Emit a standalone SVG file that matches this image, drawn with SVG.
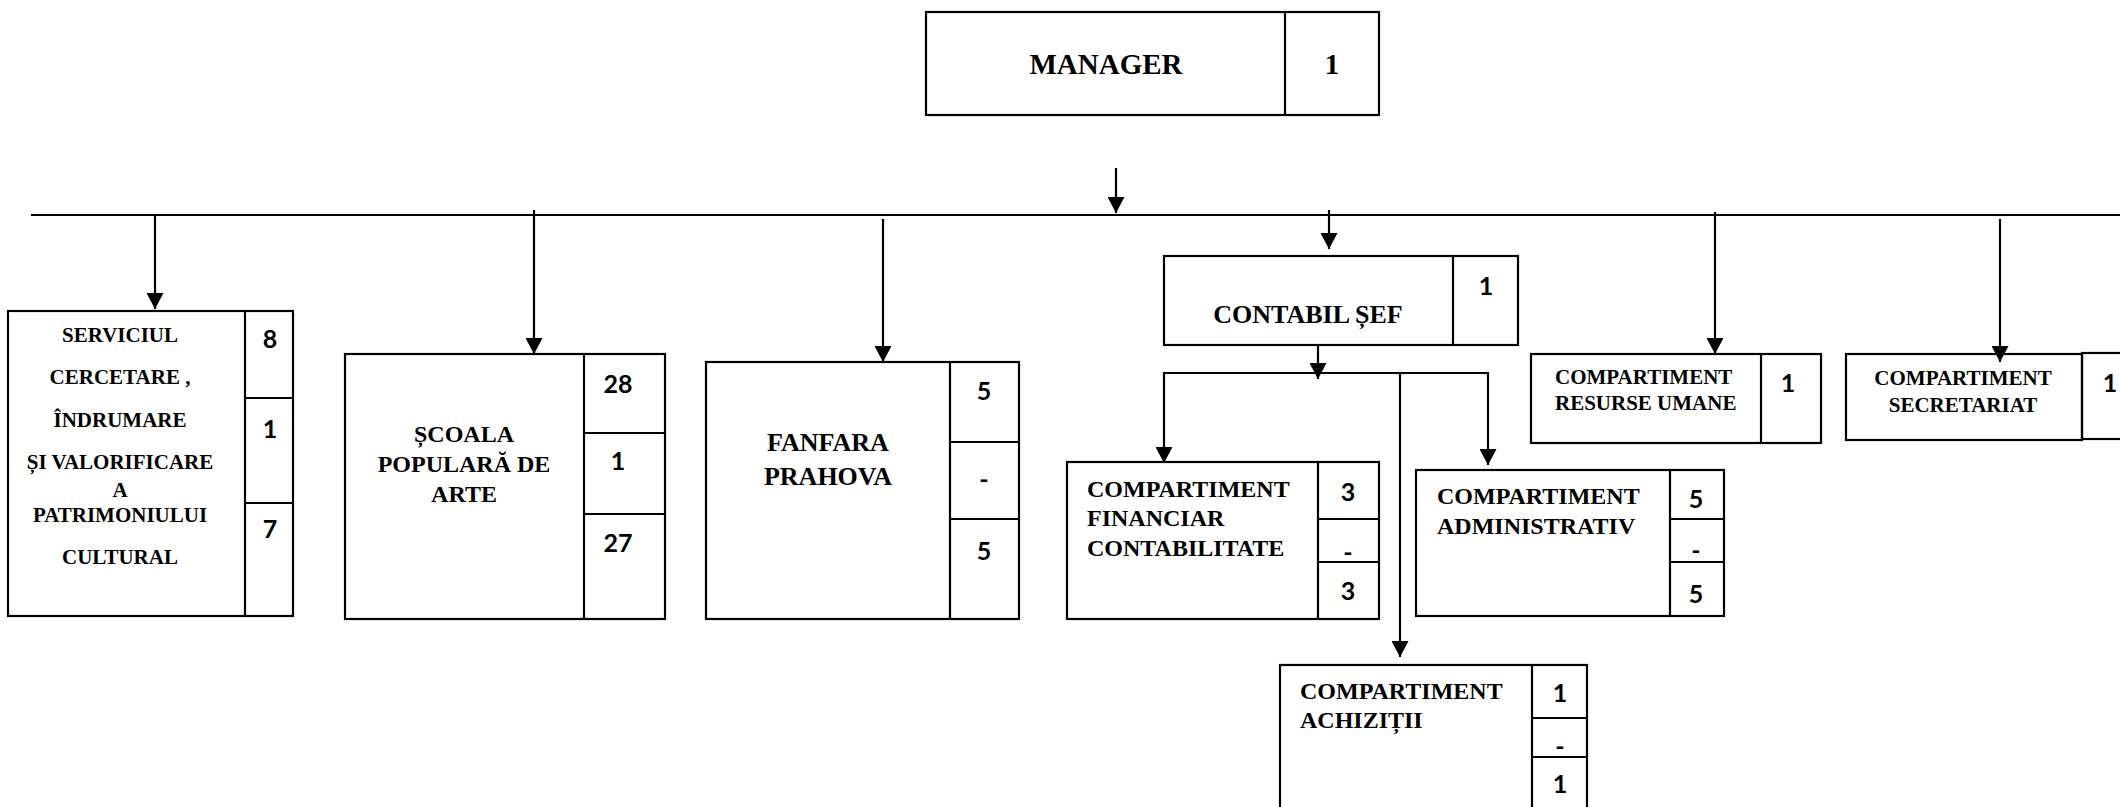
<svg xmlns="http://www.w3.org/2000/svg" width="2120" height="807" viewBox="0 0 2120 807">
<defs>
<marker id="ah" markerWidth="16" markerHeight="17" viewBox="0 0 16 17" refX="16" refY="8.5" orient="auto" markerUnits="userSpaceOnUse">
<path d="M0,0 L16,8.5 L0,17 Z" fill="#000"/>
</marker>
</defs>
<style>
.b, .ln { fill: none; stroke: #000; stroke-width: 2.2; }
.cn { fill: none; stroke: #000; stroke-width: 2.2; }
.t { font-family: "Liberation Serif", "Times New Roman", serif; font-weight: bold; fill: #000; }
.n { font-family: Lato, "Open Sans", sans-serif; font-weight: bold; fill: #000; font-size: 25px; text-anchor: middle; }
.m { text-anchor: middle; }
</style>
<rect x="0" y="0" width="2120" height="807" fill="#fff"/>

<g id="connectors">
<line class="cn" x1="1116" y1="168" x2="1116" y2="213" marker-end="url(#ah)"/>
<line class="cn" x1="31" y1="215" x2="2120" y2="215"/>
<line class="cn" x1="155" y1="215" x2="155" y2="309" marker-end="url(#ah)"/>
<line class="cn" x1="534" y1="210" x2="534" y2="354" marker-end="url(#ah)"/>
<line class="cn" x1="883" y1="219" x2="883" y2="362" marker-end="url(#ah)"/>
<line class="cn" x1="1329" y1="210" x2="1329" y2="249" marker-end="url(#ah)"/>
<line class="cn" x1="1715" y1="212" x2="1715" y2="354" marker-end="url(#ah)"/>
<line class="cn" x1="2000" y1="219" x2="2000" y2="362" marker-end="url(#ah)"/>
<line class="cn" x1="1318" y1="345" x2="1318" y2="379" marker-end="url(#ah)"/>
<line class="cn" x1="1164" y1="373" x2="1488" y2="373"/>
<line class="cn" x1="1164" y1="372" x2="1164" y2="463" marker-end="url(#ah)"/>
<line class="cn" x1="1488" y1="372" x2="1488" y2="465" marker-end="url(#ah)"/>
<line class="cn" x1="1400" y1="373" x2="1400" y2="657" marker-end="url(#ah)"/>
</g>

<g id="manager">
<rect class="b" x="926" y="12" width="453" height="103"/>
<line class="ln" x1="1285" y1="12" x2="1285" y2="115"/>
<text class="t m" x="1106" y="74" font-size="29">MANAGER</text>
<text class="t m" x="1332" y="74" font-size="29">1</text>
</g>

<g id="serviciul">
<rect class="b" x="8" y="311" width="285" height="305"/>
<line class="ln" x1="245" y1="311" x2="245" y2="616"/>
<line class="ln" x1="245" y1="398" x2="293" y2="398"/>
<line class="ln" x1="245" y1="503" x2="293" y2="503"/>
<text class="t m" font-size="21" x="120" y="342">SERVICIUL</text>
<text class="t m" font-size="21" x="120" y="384">CERCETARE ,</text>
<text class="t m" font-size="21" x="120" y="427">ÎNDRUMARE</text>
<text class="t m" font-size="21" x="120" y="469">ȘI VALORIFICARE</text>
<text class="t m" font-size="21" x="120" y="497">A</text>
<text class="t m" font-size="21" x="120" y="522">PATRIMONIULUI</text>
<text class="t m" font-size="21" x="120" y="564">CULTURAL</text>
<text class="n" x="270" y="348">8</text>
<text class="n" x="270" y="438">1</text>
<text class="n" x="270" y="538">7</text>
</g>

<g id="scoala">
<rect class="b" x="345" y="354" width="320" height="265"/>
<line class="ln" x1="584" y1="354" x2="584" y2="619"/>
<line class="ln" x1="584" y1="433" x2="665" y2="433"/>
<line class="ln" x1="584" y1="514" x2="665" y2="514"/>
<text class="t m" font-size="24" x="464" y="442">ȘCOALA</text>
<text class="t m" font-size="24" x="464" y="472">POPULARĂ DE</text>
<text class="t m" font-size="24" x="464" y="502">ARTE</text>
<text class="n" x="618" y="393">28</text>
<text class="n" x="618" y="470">1</text>
<text class="n" x="618" y="552">27</text>
</g>

<g id="fanfara">
<rect class="b" x="706" y="362" width="313" height="257"/>
<line class="ln" x1="950" y1="362" x2="950" y2="619"/>
<line class="ln" x1="950" y1="442" x2="1019" y2="442"/>
<line class="ln" x1="950" y1="519" x2="1019" y2="519"/>
<text class="t m" font-size="26" x="828" y="451">FANFARA</text>
<text class="t m" font-size="26" x="828" y="485">PRAHOVA</text>
<text class="n" x="984" y="400">5</text>
<text class="n" x="984" y="488">-</text>
<text class="n" x="984" y="560">5</text>
</g>

<g id="contabil">
<rect class="b" x="1164" y="256" width="354" height="89"/>
<line class="ln" x1="1453" y1="256" x2="1453" y2="345"/>
<text class="t m" x="1308" y="323" font-size="26">CONTABIL ȘEF</text>
<text class="n" x="1486" y="295">1</text>
</g>

<g id="financiar">
<rect class="b" x="1067" y="462" width="312" height="157"/>
<line class="ln" x1="1318" y1="462" x2="1318" y2="619"/>
<line class="ln" x1="1318" y1="519" x2="1379" y2="519"/>
<line class="ln" x1="1318" y1="562" x2="1379" y2="562"/>
<text class="t" font-size="24" x="1087" y="497">COMPARTIMENT</text>
<text class="t" font-size="24" x="1087" y="526">FINANCIAR</text>
<text class="t" font-size="24" x="1087" y="556">CONTABILITATE</text>
<text class="n" x="1348" y="501">3</text>
<text class="n" x="1348" y="561">-</text>
<text class="n" x="1348" y="600">3</text>
</g>

<g id="administrativ">
<rect class="b" x="1416" y="470" width="308" height="146"/>
<line class="ln" x1="1670" y1="470" x2="1670" y2="616"/>
<line class="ln" x1="1670" y1="519" x2="1724" y2="519"/>
<line class="ln" x1="1670" y1="562" x2="1724" y2="562"/>
<text class="t" font-size="24" x="1437" y="504">COMPARTIMENT</text>
<text class="t" font-size="24" x="1437" y="534">ADMINISTRATIV</text>
<text class="n" x="1696" y="508">5</text>
<text class="n" x="1696" y="559">-</text>
<text class="n" x="1696" y="603">5</text>
</g>

<g id="achizitii">
<rect class="b" x="1280" y="665" width="307" height="160"/>
<line class="ln" x1="1532" y1="665" x2="1532" y2="825"/>
<line class="ln" x1="1532" y1="718" x2="1587" y2="718"/>
<line class="ln" x1="1532" y1="757" x2="1587" y2="757"/>
<text class="t" font-size="24" x="1300" y="699">COMPARTIMENT</text>
<text class="t" font-size="24" x="1300" y="728">ACHIZIȚII</text>
<text class="n" x="1560" y="702">1</text>
<text class="n" x="1560" y="755">-</text>
<text class="n" x="1560" y="793">1</text>
</g>

<g id="resurse">
<rect class="b" x="1531" y="354" width="290" height="89"/>
<line class="ln" x1="1761" y1="354" x2="1761" y2="443"/>
<text class="t" font-size="21" x="1555" y="384">COMPARTIMENT</text>
<text class="t" font-size="21" x="1555" y="410">RESURSE UMANE</text>
<text class="n" x="1788" y="392">1</text>
</g>

<g id="secretariat">
<rect class="b" x="1846" y="354" width="236" height="86"/>
<rect class="b" x="2082" y="353" width="60" height="86"/>
<text class="t m" font-size="21" x="1963" y="385">COMPARTIMENT</text>
<text class="t m" font-size="21" x="1963" y="412">SECRETARIAT</text>
<text class="n" x="2110" y="392">1</text>
</g>
</svg>
